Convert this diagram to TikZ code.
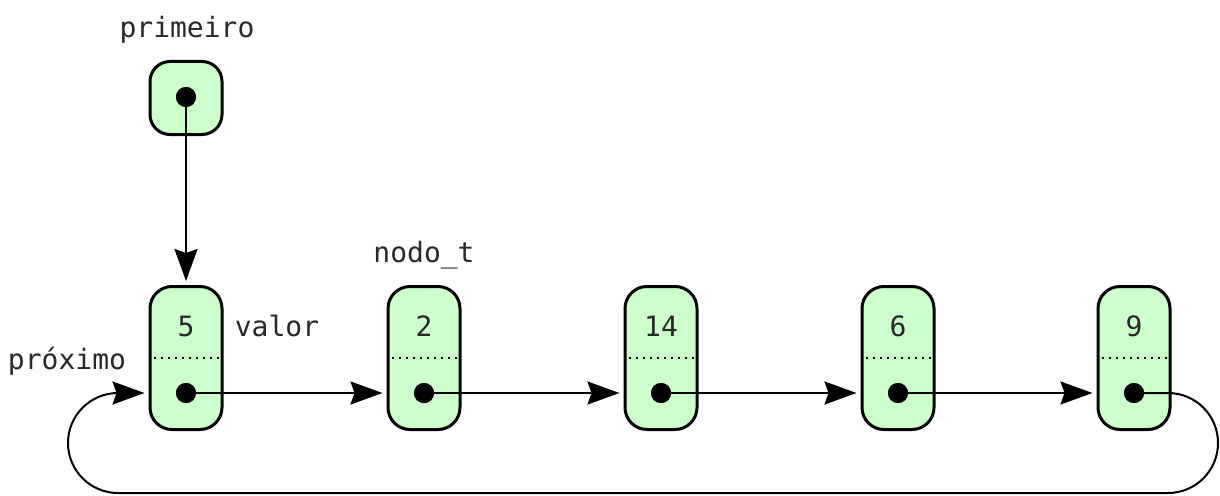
\documentclass[tikz,border=0pt]{standalone}
\usepackage{fontspec}
\setmonofont{DejaVu Sans Mono}
\usetikzlibrary{arrows.meta}
\definecolor{cellfill}{RGB}{204,255,204}
\definecolor{txt}{RGB}{40,40,40}
\begin{document}
\begin{tikzpicture}[x=1pt,y=-1pt,
  cellbox/.style={draw, line width=3pt, fill=cellfill, rounded corners=22pt,
    minimum width=72pt, minimum height=143pt, inner sep=0pt},
  ptrbox/.style={draw, line width=3pt, fill=cellfill, rounded corners=20pt,
    minimum width=72pt, minimum height=73pt, inner sep=0pt},
  dotnode/.style={circle, fill=black, minimum size=20pt, inner sep=0pt},
  lbl/.style={font=\fontsize{28}{32}\selectfont\ttfamily, text=txt, inner sep=0pt},
  sep/.style={line width=2pt, dash pattern=on 2pt off 5pt},
  arr/.style={line width=2pt, -{Stealth[length=32pt, width=23pt, inset=4pt]}, shorten >=4pt}
]
\useasboundingbox (0,0) rectangle (1220,495);

% pointer primeiro
\node[lbl] (lprim) at (187,30) {primeiro};
\node[ptrbox] (p) at (186,98) {};
\node[dotnode] (pd) at (186,97) {};

% cells
\foreach \i/\x/\v in {1/186/5, 2/424/2, 3/661/14, 4/898/6, 5/1134/9} {
  \node[cellbox] (n\i) at (\x,358) {};
  \node[lbl] (v\i) at (\x,326) {\v};
  \draw[sep] ([xshift=5pt]n\i.west |- 0,358) -- ([xshift=-4pt]n\i.east |- 0,358);
  \node[dotnode] (d\i) at (\x,393) {};
}

% labels
\node[lbl] (lvalor) at (277,326) {valor};
\node[lbl] (lprox) at (67,361) {próximo};
\node[lbl] (lnodo) at (424,255) {nodo\_t};

% arrows
\draw[arr] (pd.center) -- (n1.north);
\draw[arr] (d1.center) -- (n2.west |- d1.center);
\draw[arr] (d2.center) -- (n3.west |- d2.center);
\draw[arr] (d3.center) -- (n4.west |- d3.center);
\draw[arr] (d4.center) -- (n5.west |- d4.center);

\coordinate (c1) at (1218,393);
\coordinate (c2) at (1218,493);
\coordinate (c3) at (68,493);
\coordinate (c4) at (68,393);
\draw[arr, rounded corners=50pt] (d5.center) -- (c1) -- (c2) -- (c3) -- (c4) -- (n1.west |- d1.center);

% redraw dots on top
\foreach \i/\x in {1/186, 2/424, 3/661, 4/898, 5/1134} {
  \fill (\x,393) circle (10pt);
}
\fill (186,97) circle (10pt);
\end{tikzpicture}
\end{document}
